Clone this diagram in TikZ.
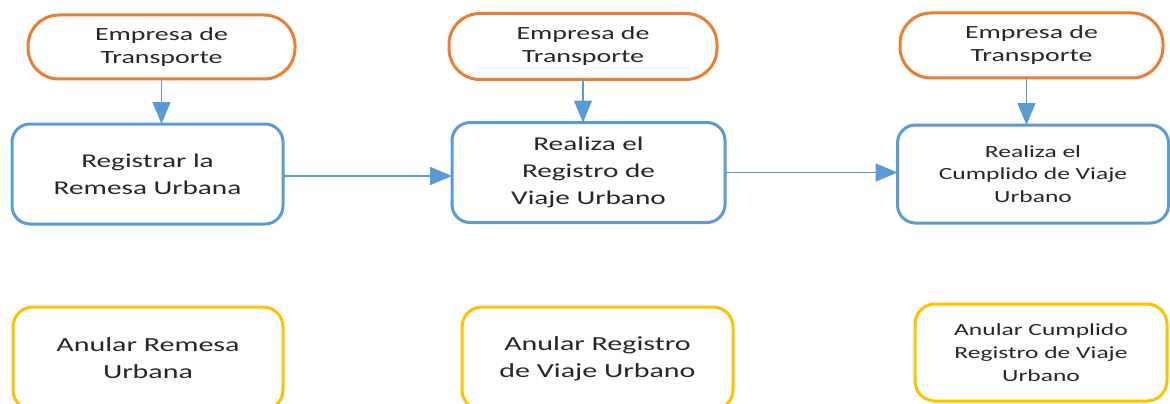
\documentclass[tikz,border=0pt]{standalone}
\usepackage{fontspec}
\setmainfont{Carlito}[FakeStretch=1.5]
\usetikzlibrary{arrows.meta}
\definecolor{ovalorange}{HTML}{ED7D31}
\definecolor{procblue}{HTML}{5B9BD5}
\definecolor{anulyellow}{HTML}{FFC000}

\begin{document}
\begin{tikzpicture}[x=1pt,y=-1pt,
  caja/.style={line width=3pt, align=center, text=black!85, inner sep=0pt, outer sep=0pt},
  actor/.style={caja, draw=ovalorange, rounded corners=31pt, font=\fontsize{18.6}{23}\selectfont},
  proceso/.style={caja, draw=procblue, rounded corners=18pt, minimum width=271pt, minimum height=100pt},
  anular/.style={caja, draw=anulyellow, rounded corners=20pt},
  flecha/.style={procblue, line width=1.5pt, -{Triangle[length=22pt,width=18pt]}}]

\useasboundingbox (0,0) rectangle (1170,404);
\clip (0,0) rectangle (1170,404);

% empresa de transporte
\node[actor, minimum width=267pt, minimum height=64pt] (emp1) at (161.5,47) {Empresa de\\Transporte};
\node[actor, minimum width=268pt, minimum height=66pt] (emp2) at (583,46.5) {Empresa de\\Transporte};
\node[actor, minimum width=263pt, minimum height=65pt] (emp3) at (1031.5,45.5) {Empresa de\\Transporte};

% procesos
\node[proceso, font=\fontsize{19.5}{27}\selectfont] (reg1) at (147.5,174) {Registrar la\\Remesa Urbana};
\node[proceso, minimum width=273pt, font=\fontsize{19.5}{27}\selectfont] (reg2) at (588.5,172.5) {Realiza el\\Registro de\\Viaje Urbano};
\node[proceso, minimum height=98pt, font=\fontsize{17}{22.5}\selectfont] (reg3) at (1033,174) {Realiza el\\Cumplido de Viaje\\Urbano};

% anulaciones
\node[anular, minimum width=270pt, minimum height=103pt, font=\fontsize{20}{27}\selectfont] (anu1) at (148,358.5) {Anular Remesa\\Urbana};
\node[anular, minimum width=271pt, minimum height=103pt, font=\fontsize{20}{27}\selectfont] (anu2) at (597.5,358.5) {Anular Registro\\de Viaje Urbano};
\node[anular, minimum width=252pt, minimum height=97pt, font=\fontsize{17}{23}\selectfont] (anu3) at (1041,352.5) {Anular Cumplido\\Registro de Viaje\\Urbano};

% flechas
\draw[flecha] (emp1.south) -- (emp1.south |- reg1.north);
\draw[flecha] (emp2.south) -- (emp2.south |- reg2.north);
\draw[flecha] ([xshift=-5pt]emp3.south) -- ([xshift=-5pt]emp3.south |- reg3.north);
\draw[flecha] ([yshift=-2pt]reg1.east) -- ([yshift=-2pt]reg1.east -| reg2.west);
\draw[flecha] (reg2.east) -- (reg2.east -| reg3.west);

\end{tikzpicture}
\end{document}
